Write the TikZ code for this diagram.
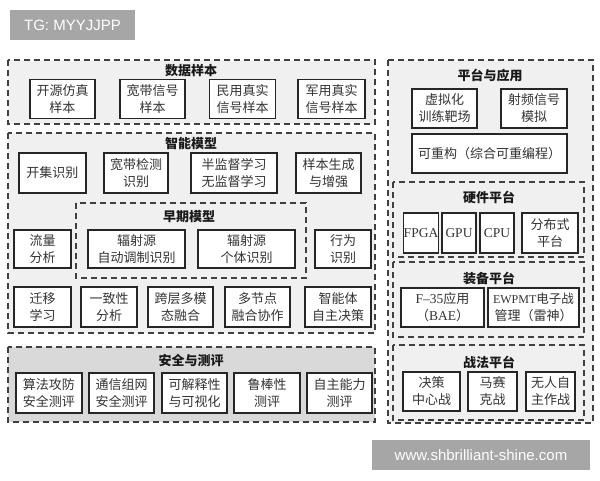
\documentclass[tikz,border=0pt]{standalone}
\usepackage{fontspec}
\setmainfont{Liberation Serif}
\newfontfamily\cjk{Noto Sans CJK SC}
\newfontfamily\wm{Liberation Sans}

\tikzset{every picture/.style={line width=0.5pt}}
\tikzset{
  group/.style={draw=black!75, dash pattern=on 6pt off 4pt, line width=1.1pt, fill=black!6},
  darkgroup/.style={group, fill=black!15},
  cell/.style={draw=black!85, line width=1.3pt, fill=white, align=center, inner sep=0pt,
    font=\cjk\fontsize{13}{17}\selectfont, text=black!80},
  heading/.style={font=\cjk\bfseries\fontsize{13}{15}\selectfont, inner sep=0pt, text=black!90},
  stamp/.style={fill=black!35, text=white, inner sep=0pt, font=\wm\fontsize{15}{18}\selectfont}
}
\newcommand{\lat}[1]{{\rmfamily\fontsize{13.5}{17}\selectfont #1}}

\begin{document}
\begin{tikzpicture}[x=1pt,y=1pt,yscale=-1,xscale=1]
    \useasboundingbox (0,0) rectangle (600,480);

    %Shape: Rectangle [数据样本]
    \draw [group] (8,60) rectangle (375,124);
    % Text Node
    \node [heading] (sjyb) at (191,71) {数据样本};
    \node [cell, minimum width=65, minimum height=39] (kyfz) at (62.5,99) {开源仿真\\样本};
    \node [cell, minimum width=65, minimum height=39] (kdxh) at (152.5,99) {宽带信号\\样本};
    \node [cell, minimum width=66, minimum height=39] (mysj) at (242.5,99) {民用真实\\信号样本};
    \node [cell, minimum width=67, minimum height=39] (jysj) at (331.5,99) {军用真实\\信号样本};

    %Shape: Rectangle [智能模型]
    \draw [group] (8,133) rectangle (375,333);
    % Text Node
    \node [heading] (znmx) at (191,144) {智能模型};
    \node [cell, minimum width=67, minimum height=40] (kjsb) at (52.5,173) {开集识别};
    \node [cell, minimum width=64, minimum height=40] (kdjc) at (136,173) {宽带检测\\识别};
    \node [cell, minimum width=86, minimum height=40] (bjd) at (234,173) {半监督学习\\无监督学习};
    \node [cell, minimum width=65, minimum height=40] (ybsc) at (328.5,173) {样本生成\\与增强};

    %Shape: Rectangle [早期模型]
    \draw [group] (76,203) rectangle (306,278);
    % Text Node
    \node [heading] (zqmx) at (189,217) {早期模型};
    \node [cell, minimum width=97, minimum height=38] (zdtz) at (136.5,249) {辐射源\\自动调制识别};
    \node [cell, minimum width=97, minimum height=38] (gtsb) at (246.5,249) {辐射源\\个体识别};
    \node [cell, minimum width=57, minimum height=38] (llfx) at (42.5,249) {流量\\分析};
    \node [cell, minimum width=56, minimum height=38] (xwsb) at (343,249) {行为\\识别};

    \node [cell, minimum width=57, minimum height=40] (qyxx) at (42.5,307) {迁移\\学习};
    \node [cell, minimum width=56, minimum height=40] (yzx) at (109,307) {一致性\\分析};
    \node [cell, minimum width=65, minimum height=40] (kcdm) at (180.5,307) {跨层多模\\态融合};
    \node [cell, minimum width=65, minimum height=40] (djd) at (257.5,307) {多节点\\融合协作};
    \node [cell, minimum width=66, minimum height=40] (zntz) at (338,307) {智能体\\自主决策};

    %Shape: Rectangle [安全与测评]
    \draw [darkgroup] (8,347) rectangle (375,422);
    % Text Node
    \node [heading] (aqcp) at (191,361) {安全与测评};
    \node [cell, minimum width=66, minimum height=40] (sfgf) at (49,393) {算法攻防\\安全测评};
    \node [cell, minimum width=65, minimum height=40] (txzw) at (121.5,393) {通信组网\\安全测评};
    \node [cell, minimum width=65, minimum height=40] (kjsx) at (194.5,393) {可解释性\\与可视化};
    \node [cell, minimum width=66, minimum height=40] (lbx) at (267,393) {鲁棒性\\测评};
    \node [cell, minimum width=65, minimum height=40] (zznl) at (339.5,393) {自主能力\\测评};

    %Shape: Rectangle [平台与应用]
    \draw [group] (388,60) rectangle (593,423);
    % Text Node
    \node [heading] (ptyy) at (490,75) {平台与应用};
    \node [cell, minimum width=65, minimum height=39] (xnh) at (444.5,108.5) {虚拟化\\训练靶场};
    \node [cell, minimum width=66, minimum height=39] (spxh) at (534,108.5) {射频信号\\模拟};
    \node [cell, minimum width=155, minimum height=39] (kcg) at (489.5,153.5) {可重构（综合可重编程）};

    %Shape: Rectangle [硬件平台]
    \draw [group] (393,182) rectangle (584,257);
    % Text Node
    \node [heading] (yjpt) at (489,197) {硬件平台};
    \node [cell, minimum width=34, minimum height=40] (fpga) at (421,233) {\lat{FPGA}};
    \node [cell, minimum width=34, minimum height=40] (gpu) at (459,233) {\lat{GPU}};
    \node [cell, minimum width=34, minimum height=40] (cpu) at (497,233) {\lat{CPU}};
    \node [cell, minimum width=56, minimum height=40] (fbs) at (550,233) {分布式\\平台};

    %Shape: Rectangle [装备平台]
    \draw [group] (393,262) rectangle (584,337);
    % Text Node
    \node [heading] (zbpt) at (489,278) {装备平台};
    \node [cell, minimum width=83, minimum height=39] (f35) at (442.5,307.5) {\lat{F–35}应用\\（\lat{BAE}）};
    \node [cell, minimum width=91, minimum height=39] (ewpmt) at (533.5,307.5) {{\rmfamily\fontsize{12}{17}\selectfont EWPMT}\fontsize{12.5}{17}\selectfont 电子战\\管理（雷神）};

    %Shape: Rectangle [战法平台]
    \draw [group] (393,345) rectangle (584,420);
    % Text Node
    \node [heading] (zfpt) at (489,362) {战法平台};
    \node [cell, minimum width=57, minimum height=39] (jczx) at (431.5,391.5) {决策\\中心战};
    \node [cell, minimum width=49, minimum height=39] (msk) at (492.5,391.5) {马赛\\克战};
    \node [cell, minimum width=49, minimum height=39] (wrzz) at (550.5,391.5) {无人自\\主作战};

    % Text Node (watermarks)
    \node [stamp, minimum width=125, minimum height=30] (tg) at (72.5,25) {TG: MYYJJPP};
    \node [stamp, minimum width=218, minimum height=30] (site) at (481,455) {www.shbrilliant-shine.com};
\end{tikzpicture}
\end{document}
